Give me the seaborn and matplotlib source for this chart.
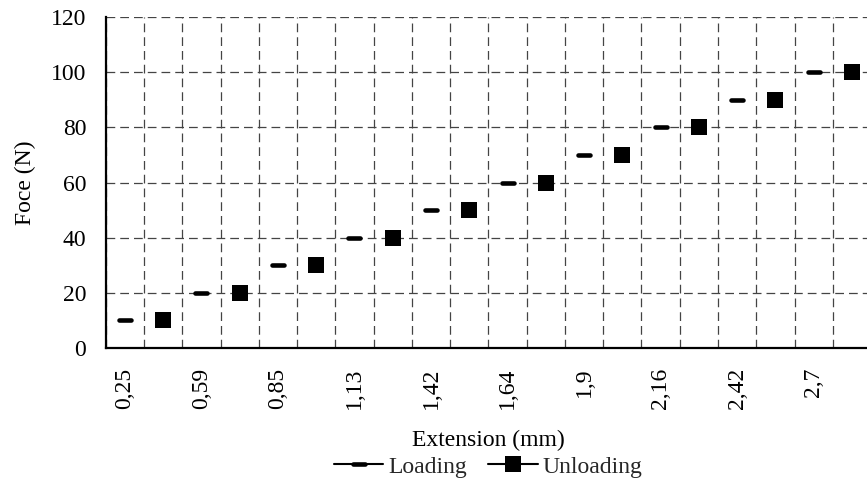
import numpy as np
import pandas as pd
import matplotlib
matplotlib.use("Agg")
import matplotlib.pyplot as plt
import seaborn as sns
from matplotlib.lines import Line2D
from matplotlib.markers import MarkerStyle
from matplotlib.ticker import FixedLocator, NullFormatter, FixedFormatter

extension_labels = ["0,25", "0,59", "0,85", "1,13", "1,42", "1,64", "1,9", "2,16", "2,42", "2,7"]
loading_force = [10, 20, 30, 40, 50, 60, 70, 80, 90, 100]
unloading_force = [10, 20, 30, 40, 50, 60, 70, 80, 90, 100]
y_ticks = [0, 20, 40, 60, 80, 100, 120]

sns.set_theme(style="white")
plt.rcParams['font.family'] = ['Liberation Serif', 'DejaVu Serif']
FS = 17

n = len(extension_labels)
df = pd.DataFrame({
    "pos": list(range(0, 2 * n, 2)) + list(range(1, 2 * n, 2)),
    "force": loading_force + unloading_force,
    "series": ["Loading"] * n + ["Unloading"] * n,
})

dash = MarkerStyle("_", capstyle="round")

fig = plt.figure(figsize=(8.67, 4.87), dpi=100)
ax = fig.add_axes([0.122, 0.2854, 0.8827, 0.6797])

sns.lineplot(data=df[df.series == "Loading"], x="pos", y="force", marker=dash,
             linestyle="none", markersize=8.5, markeredgewidth=3.3, color="black",
             markeredgecolor="black", ax=ax, legend=False, zorder=3)
sns.lineplot(data=df[df.series == "Unloading"], x="pos", y="force", marker="s",
             linestyle="none", markersize=11.5, markeredgewidth=0, color="black",
             markeredgecolor="black", ax=ax, legend=False, zorder=3)

ax.set_xlim(-0.5, 2 * n - 0.5)
ax.set_ylim(y_ticks[0], y_ticks[-1])
ax.set_yticks(y_ticks)
ax.set_yticklabels([str(v) for v in y_ticks], fontsize=FS, color="black")

ax.xaxis.set_major_locator(FixedLocator(np.arange(-0.5, 2 * n, 1.0)))
ax.xaxis.set_major_formatter(NullFormatter())
ax.xaxis.set_minor_locator(FixedLocator(np.arange(0, 2 * n, 2)))
ax.xaxis.set_minor_formatter(FixedFormatter(extension_labels))
ax.tick_params(axis="x", which="minor", length=0, pad=14, labelsize=FS,
               labelrotation=90, labelcolor="black")
ax.tick_params(axis="x", which="major", direction="in", length=6, width=1.5, color="black")
ax.tick_params(axis="y", which="major", direction="in", length=6, width=1.5,
               color="black", pad=14)

ax.grid(True, which="major", axis="both", color="#444444", linestyle=(0, (7, 4)), linewidth=0.9)
ax.set_axisbelow(True)

for s in ["top", "right"]:
    ax.spines[s].set_visible(False)
for s in ["left", "bottom"]:
    ax.spines[s].set_color("black")
    ax.spines[s].set_linewidth(1.6)
    ax.spines[s].set_zorder(4)

ax.set_xlabel("Extension (mm)", fontsize=FS, color="black")
ax.xaxis.label.set_va("center")
ax.xaxis.set_label_coords(0.5, -0.278)
ax.set_ylabel("Foce (N)", fontsize=FS, color="black")
ax.yaxis.label.set_va("center")
ax.yaxis.set_label_coords(-0.1055, 0.5)

handles = [
    Line2D([0], [0], color="black", lw=1.5, marker=dash, markersize=8.5, markeredgewidth=3.3,
           markeredgecolor="black"),
    Line2D([0], [0], color="black", lw=1.5, marker="s", markersize=11.5, markeredgewidth=0),
]
fig.legend(handles, ["Loading", "Unloading"], loc="center",
           bbox_to_anchor=(0.563, 1 - 467 / 487), ncol=2, frameon=False,
           fontsize=FS, handlelength=2.1, handletextpad=0.2, columnspacing=0.9,
           borderpad=0, borderaxespad=0)

fig.savefig("out.png", dpi=100)
